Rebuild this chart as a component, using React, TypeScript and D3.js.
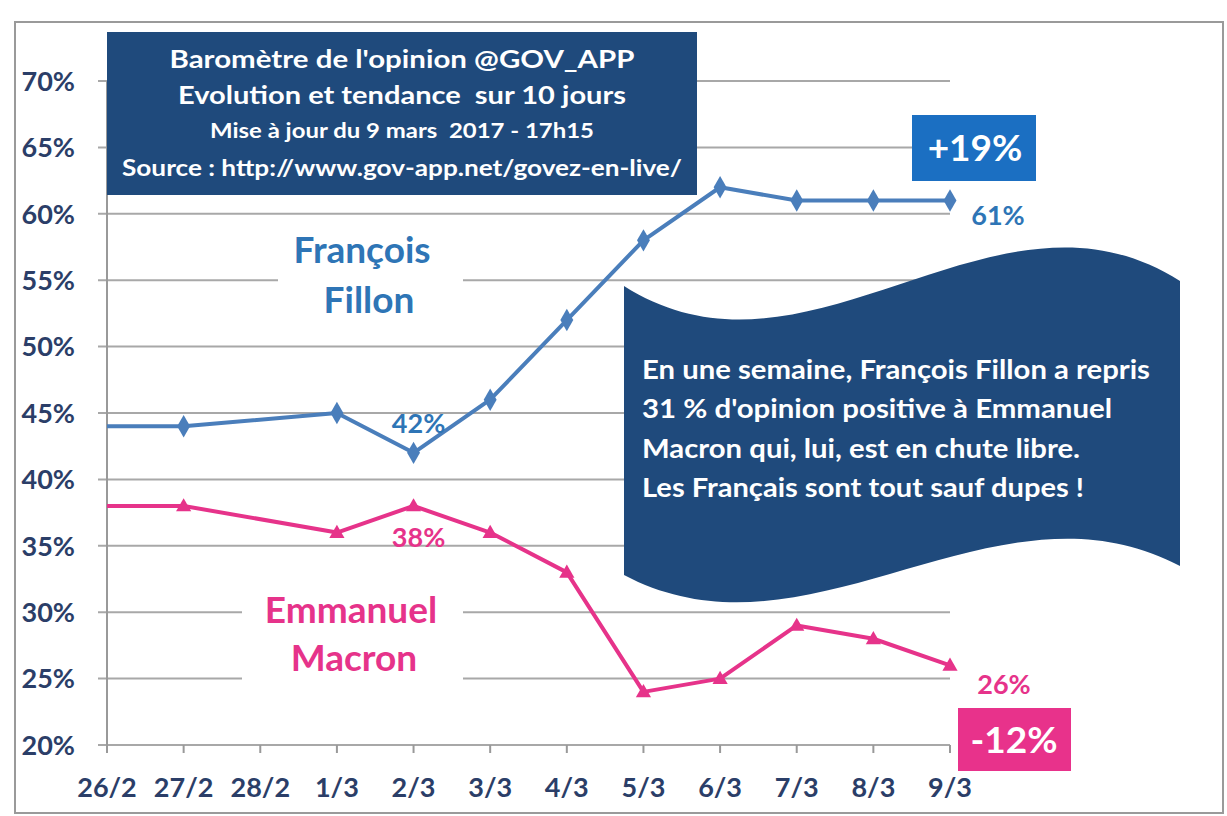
import React from "react";
import * as d3 from "d3";

const dates = ["26/2", "27/2", "28/2", "1/3", "2/3", "3/3", "4/3", "5/3", "6/3", "7/3", "8/3", "9/3"];
const fillon: (number | null)[] = [44, 44, null, 45, 42, 46, 52, 58, 62, 61, 61, 61];
const macron: (number | null)[] = [38, 38, null, 36, 38, 36, 33, 24, 25, 29, 28, 26];
const yTicks = [20, 25, 30, 35, 40, 45, 50, 55, 60, 65, 70];
const titleLines = [
  "Baromètre de l'opinion @GOV_APP",
  "Evolution et tendance  sur 10 jours",
  "Mise à jour du 9 mars  2017 - 17h15",
  "Source : http://www.gov-app.net/govez-en-live/",
];
const calloutLines = [
  "En une semaine, François Fillon a repris",
  "31 % d'opinion positive à Emmanuel",
  "Macron qui, lui, est en chute libre.",
  "Les Français sont tout sauf dupes !",
];
const refIndex = 4; // 2/3 reference point

const FONT = "Lato, 'Open Sans', sans-serif";
const NAVY = "#1f4a7c";
const BLUE = "#4a7ebb";
const BLUE_TXT = "#2e75b6";
const PINK = "#e6338a";
const AXIS_TXT = "#2b3e68";

export default function App() {
  const W = 1227, H = 816;
  const x = d3.scalePoint<string>().domain(dates).range([107, 950]);
  const y = d3.scaleLinear().domain([20, 70]).range([745, 81]);

  const pts = (arr: (number | null)[]) =>
    arr.map((v, i) => ({ d: dates[i], v, i })).filter((p) => p.v !== null) as { d: string; v: number; i: number }[];
  const line = d3.line<{ d: string; v: number }>().x((p) => x(p.d)!).y((p) => y(p.v));
  const fP = pts(fillon);
  const mP = pts(macron);
  const diamond = d3.symbol().type(d3.symbolDiamond).size(145)()!;
  const triangle = d3.symbol().type(d3.symbolTriangle).size(100)()!;

  const last = dates.length - 1;
  const fDelta = (fillon[last] as number) - (fillon[refIndex] as number);
  const mDelta = (macron[last] as number) - (macron[refIndex] as number);

  // wave callout
  const cx0 = 624, cx1 = 1180;
  const tL = 286, tR = 281, bL = 575, bR = 566, kt = 118, kb = 98;
  const w = cx1 - cx0;
  const wave =
    `M${cx0},${tL} C${cx0 + w / 3},${tL + kt} ${cx0 + (2 * w) / 3},${tR - kt} ${cx1},${tR} ` +
    `L${cx1},${bR} C${cx0 + (2 * w) / 3},${bR - kb} ${cx0 + w / 3},${bL + kb} ${cx0},${bL} Z`;

  const titleSpec = [
    { y: 68, size: 25, len: 465 },
    { y: 104, size: 25, len: 448 },
    { y: 138, size: 20, len: 384 },
    { y: 176, size: 22, len: 560 },
  ];
  const calloutLen = [508, 470, 438, 442];

  return (
    <svg width={W} height={H} style={{ position: "absolute", left: 0, top: 0, background: "#fff" }} fontFamily={FONT}>
      <rect x={0} y={0} width={W} height={H} fill="#fff" />
      <rect x={15} y={22} width={1208} height={791} fill="#fff" stroke="#9a9a9a" strokeWidth={2} />
      {/* gridlines */}
      {yTicks.map((t) => (
        <g key={t}>
          <line x1={98} x2={950} y1={y(t)} y2={y(t)} stroke="#a8a8a8" strokeWidth={2} />
          <text x={75} y={y(t)} dy="0.36em" textAnchor="end" fontSize={27} fontWeight={700} fill={AXIS_TXT}>
            {t}%
          </text>
        </g>
      ))}
      <line x1={107} x2={107} y1={y(70)} y2={y(20)} stroke="#999" strokeWidth={2} />
      {/* x axis ticks */}
      {dates.map((d) => (
        <g key={d}>
          <line x1={x(d)} x2={x(d)} y1={y(20)} y2={y(20) + 8} stroke="#999" strokeWidth={2} />
          <text x={x(d)} y={787} dy="0.36em" textAnchor="middle" fontSize={27} fontWeight={700} fill={AXIS_TXT}>
            {d}
          </text>
        </g>
      ))}
      {/* name label boxes */}
      <rect x={278} y={225} width={185} height={97} fill="#fff" />
      <text x={362} y={263} textAnchor="middle" fontSize={37} fontWeight={700} fill={BLUE_TXT}>François</text>
      <text x={369} y={313} textAnchor="middle" fontSize={37} fontWeight={700} fill={BLUE_TXT}>Fillon</text>
      <rect x={242} y={585} width={221} height={105} fill="#fff" />
      <text x={351} y={623} textAnchor="middle" fontSize={37} fontWeight={700} fill={PINK}>Emmanuel</text>
      <text x={354} y={671} textAnchor="middle" fontSize={37} fontWeight={700} fill={PINK}>Macron</text>

      {/* series */}
      <path d={line(fP)!} fill="none" stroke={BLUE} strokeWidth={4} strokeLinejoin="round" />
      <path d={line(mP)!} fill="none" stroke={PINK} strokeWidth={4} strokeLinejoin="round" />
      {fP.filter((p) => p.i > 0).map((p) => (
        <path key={"f" + p.i} d={diamond} transform={`translate(${x(p.d)},${y(p.v)})`} fill={BLUE} />
      ))}
      {mP.filter((p) => p.i > 0).map((p) => (
        <path key={"m" + p.i} d={triangle} transform={`translate(${x(p.d)},${y(p.v) + 1})`} fill={PINK} />
      ))}

      {/* data labels */}
      <text x={x(dates[refIndex])! + 5} y={y(fillon[refIndex] as number) - 30} dy="0.36em" textAnchor="middle" fontSize={27} fill={BLUE_TXT} fontWeight={700}>
        {fillon[refIndex]}%
      </text>
      <text x={x(dates[refIndex])! + 5} y={y(macron[refIndex] as number) + 31} dy="0.36em" textAnchor="middle" fontSize={27} fill={PINK} fontWeight={700}>
        {macron[refIndex]}%
      </text>
      <text x={x(dates[last])! + 48} y={y(fillon[last] as number) + 15} dy="0.36em" textAnchor="middle" fontSize={27} fill={BLUE_TXT} fontWeight={700}>
        {fillon[last]}%
      </text>
      <text x={x(dates[last])! + 54} y={y(macron[last] as number) + 19} dy="0.36em" textAnchor="middle" fontSize={27} fill={PINK} fontWeight={700}>
        {macron[last]}%
      </text>

      {/* delta boxes */}
      <rect x={912} y={115} width={124} height={66} fill="#1b6fc2" />
      <text x={975} y={148} dy="0.36em" textAnchor="middle" fontSize={37} fontWeight={700} fill="#fff">
        {fDelta > 0 ? "+" : ""}{fDelta}%
      </text>
      <rect x={958} y={708} width={113} height={63} fill="#e8328b" />
      <text x={1014} y={740} dy="0.36em" textAnchor="middle" fontSize={37} fontWeight={700} fill="#fff">
        {mDelta}%
      </text>

      {/* title box */}
      <rect x={107} y={32} width={590} height={163} fill={NAVY} />
      {titleLines.map((l, i) => (
        <text key={i} x={402} y={titleSpec[i].y} textAnchor="middle" fontSize={titleSpec[i].size} fontWeight={700} fill="#fff"
          textLength={titleSpec[i].len} lengthAdjust="spacingAndGlyphs" style={{ whiteSpace: "pre" }}>
          {l}
        </text>
      ))}

      {/* callout */}
      <path d={wave} fill={NAVY} />
      {calloutLines.map((l, i) => (
        <text key={i} x={642} y={379 + i * 39.3} fontSize={26} fontWeight={700} fill="#fff"
          textLength={calloutLen[i]} lengthAdjust="spacingAndGlyphs">
          {l}
        </text>
      ))}
    </svg>
  );
}
